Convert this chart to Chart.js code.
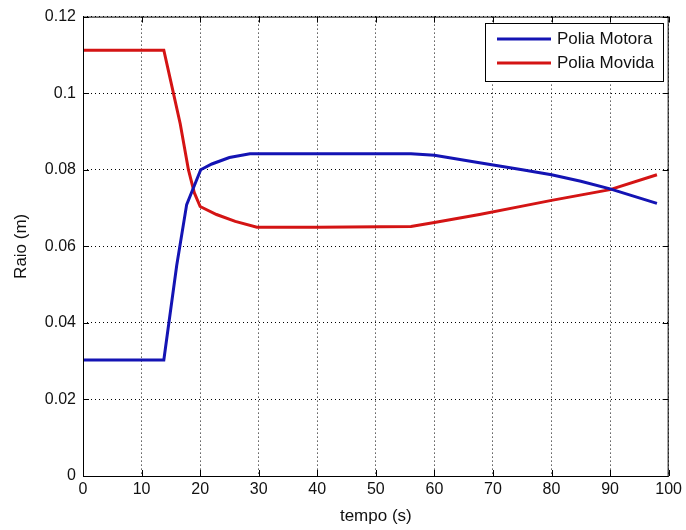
<!DOCTYPE html>
<html>
<head>
<meta charset="utf-8">
<script src="https://cdn.jsdelivr.net/npm/chart.js@4/dist/chart.umd.min.js"></script>
<style>
  html, body { margin: 0; padding: 0; background: #fff; }
  #wrap { width: 686px; height: 530px; }
</style>
</head>
<body>
<div id="wrap"><canvas id="raioChart" width="686" height="530"></canvas></div>
<script>
// Polia Motora (blue)
const motoraTempo = [0, 13.8, 16, 17.7, 20.1, 22, 25, 28.5, 40, 56, 60, 67.7, 75, 80, 85, 90, 98];
const motoraRaio  = [0.0303, 0.0303, 0.055, 0.0709, 0.0800, 0.0815, 0.0832, 0.0842, 0.0842, 0.0842, 0.0838, 0.0818, 0.0800, 0.0787, 0.0770, 0.0750, 0.0712];

// Polia Movida (red)
const movidaTempo = [0, 13.8, 15, 16.6, 18, 19, 20, 22.8, 26, 29.7, 40, 56, 60, 67.7, 75, 80, 90, 98];
const movidaRaio  = [0.1112, 0.1112, 0.1030, 0.0920, 0.0800, 0.0740, 0.0704, 0.0683, 0.0665, 0.0650, 0.0650, 0.0652, 0.0662, 0.0683, 0.0705, 0.0720, 0.0748, 0.0787];

const seriesNames = ['Polia Motora', 'Polia Movida'];
const seriesColors = ['#1414b4', '#d41414'];

const xTitle = 'tempo (s)';
const yTitle = 'Raio (m)';

const toPoints = (xs, ys) => xs.map((x, i) => ({ x: x, y: ys[i] }));

const family = '"Liberation Sans", Arial, sans-serif';
const tickFont = { family: family, size: 16 };

// box, inward ticks and the legend, MATLAB style
const matlabFrame = {
    id: 'matlabFrame',
    afterDraw(chart) {
        const { ctx, chartArea: a, scales } = chart;
        ctx.save();
        ctx.strokeStyle = '#000';
        ctx.lineWidth = 1;
        ctx.strokeRect(a.left + 0.5, a.top + 0.5, a.right - a.left - 1, a.bottom - a.top);
        const t = 6;
        ctx.beginPath();
        scales.x.ticks.forEach(tk => {
            const px = Math.round(scales.x.getPixelForValue(tk.value)) + 0.5;
            ctx.moveTo(px, a.bottom); ctx.lineTo(px, a.bottom - t);
            ctx.moveTo(px, a.top); ctx.lineTo(px, a.top + t);
        });
        scales.y.ticks.forEach(tk => {
            const py = Math.round(scales.y.getPixelForValue(tk.value)) + 0.5;
            ctx.moveTo(a.left, py); ctx.lineTo(a.left + t, py);
            ctx.moveTo(a.right, py); ctx.lineTo(a.right - t, py);
        });
        ctx.stroke();

        // legend
        const bx = 485, by = 23, bw = 178, bh = 58;
        ctx.fillStyle = '#fff';
        ctx.fillRect(bx, by, bw, bh);
        ctx.strokeRect(bx + 0.5, by + 0.5, bw, bh);
        ctx.font = '17px ' + family;
        ctx.textBaseline = 'middle';
        ctx.textAlign = 'left';
        [39, 63].forEach((ly, i) => {
            ctx.strokeStyle = seriesColors[i];
            ctx.lineWidth = 3;
            ctx.beginPath();
            ctx.moveTo(497, ly); ctx.lineTo(551, ly);
            ctx.stroke();
            ctx.fillStyle = '#111';
            ctx.fillText(seriesNames[i], 557, ly);
        });
        ctx.restore();
    }
};

new Chart(document.getElementById('raioChart'), {
    type: 'line',
    data: {
        datasets: [
            {
                label: seriesNames[0],
                data: toPoints(motoraTempo, motoraRaio),
                borderColor: seriesColors[0],
                borderWidth: 3,
                pointRadius: 0,
                tension: 0
            },
            {
                label: seriesNames[1],
                data: toPoints(movidaTempo, movidaRaio),
                borderColor: seriesColors[1],
                borderWidth: 3,
                pointRadius: 0,
                tension: 0
            }
        ]
    },
    options: {
        responsive: false,
        animation: false,
        layout: { padding: { left: 0, right: 17, top: 13, bottom: 0 } },
        plugins: {
            legend: { display: false },
            tooltip: { enabled: false }
        },
        scales: {
            x: {
                type: 'linear',
                min: 0,
                max: 100,
                ticks: { stepSize: 10, color: '#111', font: tickFont, padding: 4 },
                grid: { color: '#000', drawTicks: false, lineWidth: 1 },
                border: { display: false, dash: [1, 3] },
                title: { display: true, text: xTitle, color: '#111', font: { family: family, size: 17 }, padding: { top: 0, bottom: 3 } },
                afterFit: s => { s.height = 54; }
            },
            y: {
                min: 0,
                max: 0.12,
                ticks: {
                    stepSize: 0.02,
                    color: '#111',
                    font: tickFont,
                    padding: 7,
                    callback: v => String(parseFloat(v.toFixed(2)))
                },
                grid: { color: '#000', drawTicks: false, lineWidth: 1 },
                border: { display: false, dash: [1, 3] },
                title: { display: true, text: yTitle, color: '#111', font: { family: family, size: 17 }, padding: { top: 11, bottom: 0 } },
                afterFit: s => { s.width = 83; }
            }
        }
    },
    plugins: [matlabFrame]
});
</script>
</body>
</html>
